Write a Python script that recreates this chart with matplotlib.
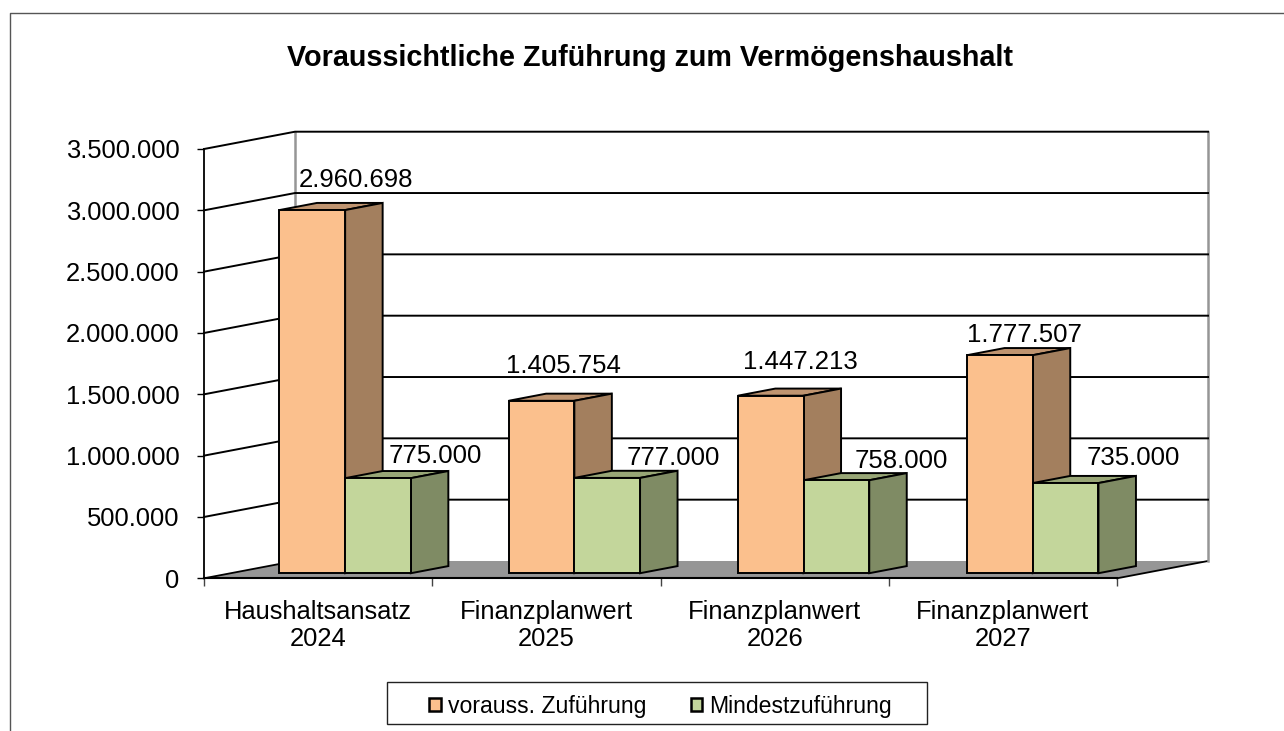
import matplotlib
matplotlib.use("Agg")
import matplotlib.pyplot as plt
from matplotlib.lines import Line2D
from matplotlib.patches import Patch, Polygon, Rectangle
from matplotlib.ticker import FuncFormatter

categories = ["Haushaltsansatz\n2024", "Finanzplanwert\n2025", "Finanzplanwert\n2026", "Finanzplanwert\n2027"]
zufuehrung = [2960698, 1405754, 1447213, 1777507]
mindest = [775000, 777000, 758000, 735000]
y_ticks = [0, 500000, 1000000, 1500000, 2000000, 2500000, 3000000, 3500000]
legend_names = ["vorauss. Zuführung", "Mindestzuführung"]

W, H = 1284, 731
plt.rcParams["font.family"] = ["Liberation Sans", "DejaVu Sans"]

# depth of the fake 3d box, x in categories, y in value units
DEPTH_X = 91 / 228.25
DEPTH_Y = 3500000 * 17.3 / 429.3
BAR_W = 65.7 / 228.25
BAR_START = 48.7 / 228.25
BAR_PITCH = 229.2 / 228.25
Z0, Z1 = 0.294, 0.706

ORANGE = ("#FBC08D", "#A37F5E", "#BF9470")
GREEN = ("#C3D69B", "#7F8B64", "#98A676")


def proj(x, y, z):
    return x + z * DEPTH_X, y + z * DEPTH_Y


def dots(v, pos=None):
    return f"{int(v):,}".replace(",", ".")


def draw_bar(ax, left, value, colors):
    right = left + BAR_W
    front = [proj(left, 0, Z0), proj(right, 0, Z0), proj(right, value, Z0), proj(left, value, Z0)]
    side = [proj(right, 0, Z0), proj(right, 0, Z1), proj(right, value, Z1), proj(right, value, Z0)]
    top = [proj(left, value, Z0), proj(right, value, Z0), proj(right, value, Z1), proj(left, value, Z1)]
    for pts, col in [(top, colors[2]), (side, colors[1]), (front, colors[0])]:
        ax.add_patch(Polygon(pts, closed=True, facecolor=col, edgecolor="black",
                             linewidth=1.4, joinstyle="miter", clip_on=False, zorder=5))


fig = plt.figure(figsize=(W / 100, H / 100), dpi=100)
ax = fig.add_axes([204 / W, 1 - 578.3 / H, 913 / W, 429.3 / H])
ax.set_xlim(0, len(categories))
ax.set_ylim(0, y_ticks[-1])
ax.patch.set_visible(False)

for name in ["top", "right"]:
    ax.spines[name].set_visible(False)
ax.spines["left"].set_linewidth(1.3)
ax.spines["bottom"].set_linewidth(1.5)

ax.yaxis.set_major_formatter(FuncFormatter(dots))
ax.set_yticks(y_ticks)
ax.tick_params(axis="y", labelsize=18.4, length=5, width=1.0, pad=12.5)
ax.set_xticks(range(len(categories) + 1))
ax.set_xticklabels([])
ax.set_xticks([i + 0.5 for i in range(len(categories))], categories, minor=True)
ax.tick_params(axis="x", which="major", length=5.5, width=1.0, color="#444444")
ax.tick_params(axis="x", which="minor", length=0, labelsize=18.4, pad=15.5)
for lab in ax.get_xticklabels(minor=True):
    lab.set_linespacing(1.16)

# floor
n = len(categories)
floor = [proj(0, 0, 0), proj(n, 0, 0), proj(n, 0, 1), proj(0, 0, 1)]
ax.add_patch(Polygon(floor, closed=True, facecolor="#969696", edgecolor="none", clip_on=False, zorder=1))
for a, b in [(proj(0, 0, 0), proj(0, 0, 1)), (proj(n, 0, 0), proj(n, 0, 1))]:
    ax.plot([a[0], b[0]], [a[1], b[1]], color="black", lw=1.3, clip_on=False, zorder=2)

# back wall and grid
for x in [0, n]:
    a, b = proj(x, 0, 1), proj(x, y_ticks[-1], 1)
    ax.plot([a[0], b[0]], [a[1], b[1]], color="#969696", lw=1.8, clip_on=False, zorder=2)
for v in y_ticks[1:]:
    a, b, c = proj(0, v, 0), proj(0, v, 1), proj(n, v, 1)
    ax.plot([a[0], b[0], c[0]], [a[1], b[1], c[1]], color="black", lw=1.4,
            clip_on=False, zorder=3, solid_joinstyle="miter")

# bars
for i in range(n):
    draw_bar(ax, i * BAR_PITCH + BAR_START, zufuehrung[i], ORANGE)
    draw_bar(ax, i * BAR_PITCH + BAR_START + BAR_W, mindest[i], GREEN)

# data labels, offsets in points from the front right top corner of each bar
offsets_orange = [(7.6, 21.4), (-7.5, 25), (-2.4, 24), (-5.8, 14.5)]
offsets_green = [(17.6, 16), (24.1, 14), (23.4, 14), (24.8, 18.3)]
for i in range(n):
    ax.annotate(dots(zufuehrung[i]), proj(i * BAR_PITCH + BAR_START + BAR_W, zufuehrung[i], Z0), xytext=offsets_orange[i],
                textcoords="offset points", ha="center", va="center", fontsize=18.5, zorder=8, annotation_clip=False)
    ax.annotate(dots(mindest[i]), proj(i * BAR_PITCH + BAR_START + 2 * BAR_W, mindest[i], Z0), xytext=offsets_green[i],
                textcoords="offset points", ha="center", va="center", fontsize=18.5, zorder=8, annotation_clip=False)

# legend with its own box
fig.add_artist(Rectangle((386.5 / W, 1 - 724 / H), 540 / W, 42 / H, transform=fig.transFigure,
                         facecolor="white", edgecolor="#222222", linewidth=1.0))
handles = [Patch(facecolor=ORANGE[0], edgecolor="black", linewidth=1.8),
           Patch(facecolor=GREEN[0], edgecolor="black", linewidth=1.8)]
fig.legend(handles, legend_names, loc="center", bbox_to_anchor=(660.5 / W, 1 - 706 / H), ncol=2, frameon=False,
           fontsize=16.6, handlelength=0.5, handleheight=0.5, handletextpad=0.3, columnspacing=1.95)

# outer chart frame, only left and top visible
fig.add_artist(Line2D([9.5 / W, 9.5 / W, 1], [0, 1 - 12.5 / H, 1 - 12.5 / H], color="#555555", lw=1.0))

fig.text(650 / W, 1 - 58.5 / H, "Voraussichtliche Zuführung zum Vermögenshaushalt",
         ha="center", va="center", fontsize=20.7, fontweight="bold")

fig.savefig("out.png", dpi=100)
